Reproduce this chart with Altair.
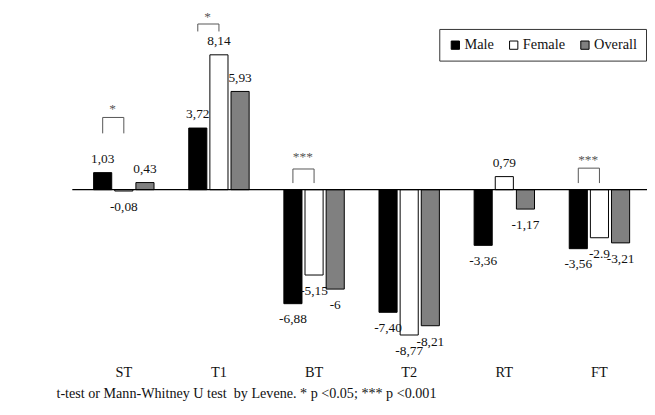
import altair as alt
import pandas as pd

categories = ["ST", "T1", "BT", "T2", "RT", "FT"]
groups = ["Male", "Female", "Overall"]
male = [1.03, 3.72, -6.88, -7.40, -3.36, -3.56]
female = [-0.08, 8.14, -5.15, -8.77, 0.79, -2.9]
overall = [0.43, 5.93, -6.0, -8.21, -1.17, -3.21]
male_labels = ["1,03", "3,72", "-6,88", "-7,40", "-3,36", "-3,56"]
female_labels = ["-0,08", "8,14", "-5,15", "-8,77", "0,79", "-2.9"]
overall_labels = ["0,43", "5,93", "-6", "-8,21", "-1,17", "-3,21"]
y_ticks = [-10, -8, -6, -4, -2, 0, 2, 4, 6, 8, 10]
colors = ["#000000", "#ffffff", "#808080"]

sig_categories = ["ST", "T1", "BT", "FT"]
sig_marks = ["*", "*", "***", "***"]
sig_top = [4.36, 10.0, 1.25, 1.3]
sig_bottom = [3.4, 9.55, 0.4, 0.4]
sig_star = [4.85, 10.45, 2.0, 1.8]

footnote = "t-test or Mann-Whitney U test\u00a0 by Levene. * p <0.05; *** p <0.001"
FONT = "Liberation Serif"

rows = []
for vals, labs, g in [(male, male_labels, "Male"), (female, female_labels, "Female"), (overall, overall_labels, "Overall")]:
    for c, v, l in zip(categories, vals, labs):
        rows.append({"cat": c, "group": g, "value": v, "label": l})
df = pd.DataFrame(rows)

brows = []
for c, t, b in zip(sig_categories, sig_top, sig_bottom):
    brows += [
        {"cat": c, "group": "Male", "value": b, "o": 0},
        {"cat": c, "group": "Male", "value": t, "o": 1},
        {"cat": c, "group": "Female", "value": t, "o": 2},
        {"cat": c, "group": "Female", "value": b, "o": 3},
    ]
bdf = pd.DataFrame(brows)
sdf = pd.DataFrame({"cat": sig_categories, "group": ["Male"] * 4, "value": sig_star, "mark": sig_marks})
zdf = pd.DataFrame({"zero": [0]})

xscale = alt.Scale(domain=categories, paddingInner=0.365, paddingOuter=0.1825)
xaxis = alt.Axis(title=None, domain=False, ticks=False, labelPadding=10, labelAngle=0)
oscale = alt.Scale(domain=groups, paddingInner=0.143, paddingOuter=0)
yscale = alt.Scale(domain=[-10, 10], nice=False, zero=False)
yaxis = alt.Axis(values=y_ticks, labelExpr="datum.value + ''", labelOverlap=False,
                 tickSize=5, labelPadding=4, grid=False, title="Mean relative changes (%).",
                 titlePadding=7)

X = alt.X("cat:N", sort=categories, scale=xscale, axis=xaxis)
XO = alt.XOffset("group:N", sort=groups, scale=oscale)
Y = alt.Y("value:Q", scale=yscale, axis=yaxis)

bars = alt.Chart(df).mark_bar(stroke="black", strokeWidth=1).encode(
    x=X, xOffset=XO, y=Y,
    color=alt.Color("group:N", sort=groups, scale=alt.Scale(domain=groups, range=colors),
                    legend=alt.Legend(orient="none", legendX=367, legendY=5, direction="horizontal",
                                      title=None, strokeColor="#333", padding=9, fillColor="white",
                                      symbolType="square", symbolSize=70, symbolStrokeColor="black",
                                      symbolStrokeWidth=1, labelOffset=2, columnPadding=12)),
)

pos_labels = alt.Chart(df).transform_filter("datum.value >= 0").mark_text(
    font=FONT, fontSize=13.5, color="#111", baseline="middle", dy=-14
).encode(x=X, xOffset=XO, y=Y, text="label:N")

neg_labels = alt.Chart(df).transform_filter("datum.value < 0").mark_text(
    font=FONT, fontSize=13.5, color="#111", baseline="middle", dy=16
).encode(x=X, xOffset=XO, y=Y, text="label:N")

zero = alt.Chart(zdf).mark_rule(color="black", strokeWidth=1.2).encode(
    y=alt.Y("zero:Q", scale=yscale, axis=None), x=alt.value(-4), x2=alt.value(577))

brackets = alt.Chart(bdf).mark_line(color="#555", strokeWidth=1, clip=False).encode(
    x=X, xOffset=XO, y=Y, detail="cat:N", order="o:Q")

stars = alt.Chart(sdf).mark_text(font=FONT, fontSize=13.5, color="#555", baseline="middle", dx=10).encode(
    x=X, xOffset=XO, y=Y, text="mark:N")

chart = alt.layer(bars, pos_labels, neg_labels, brackets, stars, zero).properties(
    width=577, height=335,
    autosize=alt.AutoSizeParams(type="none"),
    padding={"left": 69, "top": 14, "right": 0, "bottom": 50},
    title=alt.TitleParams(footnote, orient="bottom", anchor="start", frame="group", dx=-20, offset=9,
                          font=FONT, fontSize=14.3, fontWeight="normal", color="#111"),
).configure(
    background="white", font=FONT
).configure_view(
    strokeWidth=0
).configure_axis(
    labelFont=FONT, labelFontSize=14.5, labelColor="#111", titleFont=FONT, titleFontSize=14.5,
    titleFontWeight="normal", titleColor="#111", domainColor="black", tickColor="black"
).configure_axisY(
    labelOverlap=False
).configure_legend(
    labelFont=FONT, labelFontSize=14.5, labelColor="#111"
)

chart.save("out.html", embed_options={"renderer": "svg", "actions": False})
